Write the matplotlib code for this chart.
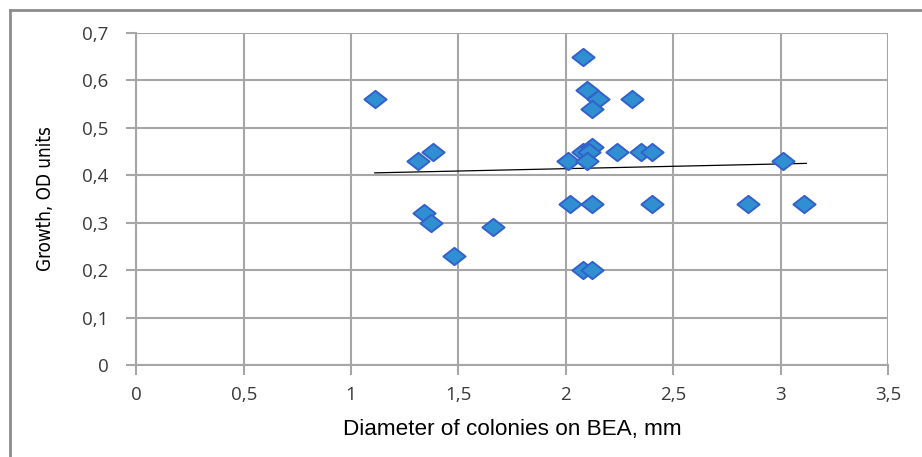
import matplotlib
matplotlib.use('Agg')
import matplotlib.pyplot as plt
from matplotlib.path import Path

# diameter of colonies (mm) and growth (OD units)
diameter = [1.11, 1.31, 1.38, 1.34, 1.37, 1.48, 1.66,
            2.08, 2.10, 2.15, 2.12, 2.31,
            2.01, 2.08, 2.12, 2.11, 2.10, 2.24, 2.35, 2.40,
            2.02, 2.12, 2.40, 2.85, 3.11, 3.01,
            2.08, 2.12]
growth = [0.56, 0.43, 0.45, 0.32, 0.30, 0.23, 0.29,
          0.65, 0.58, 0.56, 0.54, 0.56,
          0.43, 0.45, 0.46, 0.45, 0.43, 0.45, 0.45, 0.45,
          0.34, 0.34, 0.34, 0.34, 0.34, 0.43,
          0.20, 0.20]

# trend line end points
trend_x = [1.11, 3.12]
trend_y = [0.405, 0.425]

x_ticks = [0, 0.5, 1, 1.5, 2, 2.5, 3, 3.5]
y_ticks = [0, 0.1, 0.2, 0.3, 0.4, 0.5, 0.6, 0.7]


def comma(v):
    s = f'{v:g}'
    return s.replace('.', ',')


fig = plt.figure(figsize=(9.22, 4.57), dpi=100)
ax = fig.add_axes([0.148, 0.2013, 0.815, 0.7267])

# wide diamond marker
diamond = Path([(-1, 0), (0, 0.78), (1, 0), (0, -0.78), (-1, 0)],
               [Path.MOVETO, Path.LINETO, Path.LINETO, Path.LINETO, Path.CLOSEPOLY])

ax.plot(trend_x, trend_y, color='black', lw=0.9, zorder=2)
ax.plot(diameter, growth, ls='none', marker=diamond, ms=16,
        mfc='#2F8FD0', mec='#3360CC', mew=1.4, zorder=3)

ax.set_xlim(0, 3.5)
ax.set_ylim(0, 0.7)
ax.set_xticks(x_ticks)
ax.set_yticks(y_ticks)
ax.set_xticklabels([comma(v) for v in x_ticks])
ax.set_yticklabels([comma(v) for v in y_ticks])

ax.grid(True, color='#A6A6A6', lw=1.5)
ax.set_axisbelow(True)
for side in ['top', 'right']:
    ax.spines[side].set_visible(False)
for side in ['left', 'bottom']:
    ax.spines[side].set_color('#A6A6A6')
    ax.spines[side].set_linewidth(1.5)

ax.tick_params(axis='both', length=7, width=1.5, color='#A6A6A6',
               labelsize=13.5, labelcolor='#3A3A3A')
ax.tick_params(axis='x', pad=8)
ax.tick_params(axis='y', pad=13)
for lab in ax.get_xticklabels() + ax.get_yticklabels():
    lab.set_family('Open Sans')

ax.set_xlabel('Diameter of colonies on BEA, mm', fontsize=16.2,
              family='Liberation Sans', labelpad=11)
ax.set_ylabel('Growth, OD units', fontsize=13.5, family='DejaVu Sans',
              stretch='condensed', labelpad=20)

# outer chart frame (top and left edges visible)
fig.add_artist(plt.Line2D([0.0108, 1.0], [0.978, 0.978], transform=fig.transFigure,
                          color='#8C8C8C', lw=2))
fig.add_artist(plt.Line2D([0.0108, 0.0108], [0.0, 0.978], transform=fig.transFigure,
                          color='#8C8C8C', lw=2))

fig.savefig('out.png', dpi=100)
plt.close(fig)
